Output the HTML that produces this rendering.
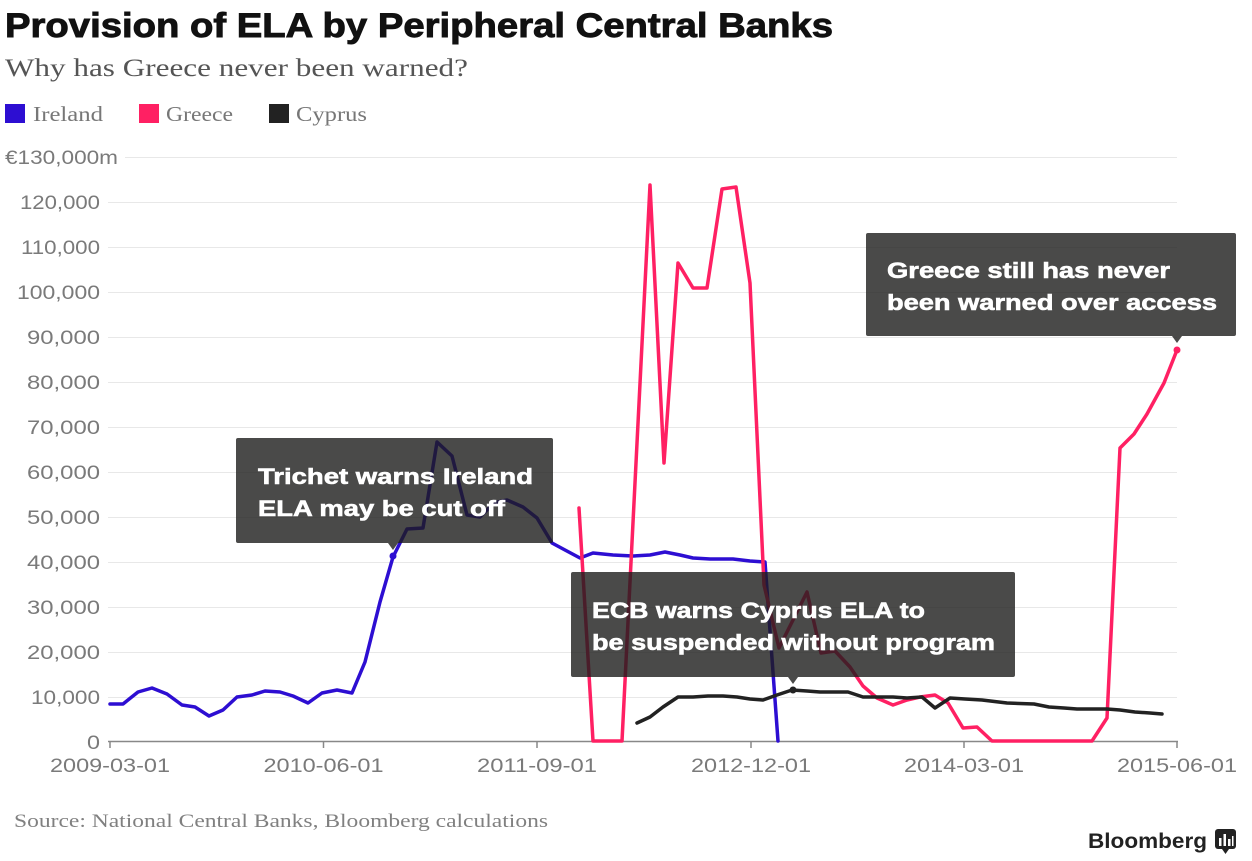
<!DOCTYPE html>
<html>
<head>
<meta charset="utf-8">
<style>
  html,body{margin:0;padding:0;background:#fff;}
  svg{display:block;}
  .yl{font-family:"Liberation Sans",sans-serif;font-size:19px;fill:#7a7a7a;}
  .xl{font-family:"Liberation Sans",sans-serif;font-size:19px;fill:#7a7a7a;}
  .ann{font-family:"Liberation Sans",sans-serif;font-size:22px;font-weight:bold;fill:#fff;stroke:#fff;stroke-width:0.6;}
  .ser{font-family:"Liberation Serif",serif;}
</style>
</head>
<body>
<svg width="1252" height="861" viewBox="0 0 1252 861" xmlns="http://www.w3.org/2000/svg">
  <rect x="0" y="0" width="1252" height="861" fill="#fff"/>

  <!-- Title -->
  <text x="5" y="37" font-family="Liberation Sans, sans-serif" font-size="34" font-weight="bold" fill="#111" stroke="#111" stroke-width="0.9" textLength="828" lengthAdjust="spacingAndGlyphs">Provision of ELA by Peripheral Central Banks</text>
  <text x="5" y="76" class="ser" font-size="25" fill="#555" textLength="463" lengthAdjust="spacingAndGlyphs">Why has Greece never been warned?</text>

  <!-- Legend -->
  <rect x="5" y="104" width="20" height="19" fill="#2d0ed2"/>
  <text x="33" y="121" class="ser" font-size="21" fill="#777" textLength="70" lengthAdjust="spacingAndGlyphs">Ireland</text>
  <rect x="139" y="104" width="20" height="19" fill="#ff2063"/>
  <text x="166" y="121" class="ser" font-size="21" fill="#777" textLength="67" lengthAdjust="spacingAndGlyphs">Greece</text>
  <rect x="269" y="104" width="20" height="19" fill="#222"/>
  <text x="296" y="121" class="ser" font-size="21" fill="#777" textLength="71" lengthAdjust="spacingAndGlyphs">Cyprus</text>

  <!-- Gridlines -->
  <g stroke="#e8e8e8" stroke-width="1">
    <line x1="125" y1="157.5" x2="1177" y2="157.5"/>
    <line x1="108" y1="202.5" x2="1177" y2="202.5"/>
    <line x1="108" y1="247.5" x2="1177" y2="247.5"/>
    <line x1="108" y1="292.5" x2="1177" y2="292.5"/>
    <line x1="108" y1="337.5" x2="1177" y2="337.5"/>
    <line x1="108" y1="382.5" x2="1177" y2="382.5"/>
    <line x1="108" y1="427.5" x2="1177" y2="427.5"/>
    <line x1="108" y1="472.5" x2="1177" y2="472.5"/>
    <line x1="108" y1="517.5" x2="1177" y2="517.5"/>
    <line x1="108" y1="562.5" x2="1177" y2="562.5"/>
    <line x1="108" y1="607.5" x2="1177" y2="607.5"/>
    <line x1="108" y1="652.5" x2="1177" y2="652.5"/>
    <line x1="108" y1="697.5" x2="1177" y2="697.5"/>
  </g>

  <!-- Y labels -->
  <text x="5" y="164" class="yl" textLength="113" lengthAdjust="spacingAndGlyphs">€130,000m</text>
  <text x="20" y="209" class="yl" textLength="80" lengthAdjust="spacingAndGlyphs">120,000</text>
  <text x="21" y="254" class="yl" textLength="79" lengthAdjust="spacingAndGlyphs">110,000</text>
  <text x="17" y="299" class="yl" textLength="83" lengthAdjust="spacingAndGlyphs">100,000</text>
  <text x="27" y="344" class="yl" textLength="73" lengthAdjust="spacingAndGlyphs">90,000</text>
  <text x="27" y="389" class="yl" textLength="73" lengthAdjust="spacingAndGlyphs">80,000</text>
  <text x="27" y="434" class="yl" textLength="73" lengthAdjust="spacingAndGlyphs">70,000</text>
  <text x="27" y="479" class="yl" textLength="73" lengthAdjust="spacingAndGlyphs">60,000</text>
  <text x="27" y="524" class="yl" textLength="73" lengthAdjust="spacingAndGlyphs">50,000</text>
  <text x="27" y="569" class="yl" textLength="73" lengthAdjust="spacingAndGlyphs">40,000</text>
  <text x="27" y="614" class="yl" textLength="73" lengthAdjust="spacingAndGlyphs">30,000</text>
  <text x="27" y="659" class="yl" textLength="73" lengthAdjust="spacingAndGlyphs">20,000</text>
  <text x="31" y="704" class="yl" textLength="69" lengthAdjust="spacingAndGlyphs">10,000</text>
  <text x="87" y="749" class="yl" textLength="13" lengthAdjust="spacingAndGlyphs">0</text>

  <!-- Axis -->
  <line x1="108" y1="741.5" x2="1178" y2="741.5" stroke="#888" stroke-width="1.5"/>
  <g stroke="#888" stroke-width="1.5">
    <line x1="110" y1="741" x2="110" y2="748"/>
    <line x1="323.5" y1="741" x2="323.5" y2="748"/>
    <line x1="537" y1="741" x2="537" y2="748"/>
    <line x1="751" y1="741" x2="751" y2="748"/>
    <line x1="964" y1="741" x2="964" y2="748"/>
    <line x1="1177" y1="741" x2="1177" y2="748"/>
  </g>
  <text x="50" y="772" class="xl" textLength="120" lengthAdjust="spacingAndGlyphs">2009-03-01</text>
  <text x="263.5" y="772" class="xl" textLength="120" lengthAdjust="spacingAndGlyphs">2010-06-01</text>
  <text x="477" y="772" class="xl" textLength="120" lengthAdjust="spacingAndGlyphs">2011-09-01</text>
  <text x="691" y="772" class="xl" textLength="120" lengthAdjust="spacingAndGlyphs">2012-12-01</text>
  <text x="904" y="772" class="xl" textLength="120" lengthAdjust="spacingAndGlyphs">2014-03-01</text>
  <text x="1117" y="772" class="xl" textLength="120" lengthAdjust="spacingAndGlyphs">2015-06-01</text>

  <!-- Series -->
  <g fill="none" stroke-width="3.5" stroke-linejoin="round" stroke-linecap="round">
    <polyline stroke="#2d0ed2" points="110,704 123,704 138,692 152,688 167,694 182,705 195,707 209,716 223,710 237,697 252,695 265,691 280,692 293,696 308,703 322,693 337,690 352,693 365,662 380,602 393,557 407,529 423,528 437,442 452,456 467,515 480,517 494,503 507,500 523,507 537,518 552,543 565,550 580,558 593,553 613,555 633,556 650,555 665,552 680,555 693,558 710,559 733,559 750,561 765,562 778,741"/>
    <polyline stroke="#ff2063" points="579,508 593,741 622,741 650,185 664,463 678,263 693,288 707,288 722,189 736,187 750,283 764,585 779,648 807,592 821,653 835,651 850,667 863,686 877,698 893,705 907,700 920,697 935,695 948,703 963,728 977,727 992,741 1092,741 1107,718 1120,448 1134,434 1147,414 1164,383 1177,350"/>
    <polyline stroke="#222" points="637,723 650,717 663,707 678,697 693,697 708,696 723,696 737,697 750,699 763,700 777,695 792,690 807,691 820,692 835,692 848,692 863,697 878,697 893,697 907,698 922,697 935,708 950,698 965,699 982,700 1007,703 1034,704 1049,707 1064,708 1077,709 1107,709 1120,710 1135,712 1150,713 1162,714"/>
  </g>
  <circle cx="393" cy="556" r="3.5" fill="#2d0ed2"/>
  <circle cx="793" cy="690" r="3.5" fill="#222"/>
  <circle cx="1177" cy="350" r="3.5" fill="#ff2063"/>

  <!-- Annotation boxes -->
  <g fill="#1d1d1b" fill-opacity="0.8">
    <rect x="236" y="438" width="317" height="105" rx="2"/>
    <polygon points="388,543 398,543 393,550"/>
    <rect x="571" y="572" width="444" height="105" rx="2"/>
    <polygon points="788,677 798,677 793,684"/>
    <rect x="866" y="233" width="370" height="103" rx="2"/>
    <polygon points="1172,336 1182,336 1177,343"/>
  </g>
  <text x="258" y="484" class="ann" textLength="275" lengthAdjust="spacingAndGlyphs">Trichet warns Ireland</text>
  <text x="258" y="516" class="ann" textLength="247" lengthAdjust="spacingAndGlyphs">ELA may be cut off</text>
  <text x="592" y="618" class="ann" textLength="333" lengthAdjust="spacingAndGlyphs">ECB warns Cyprus ELA to</text>
  <text x="592" y="650" class="ann" textLength="403" lengthAdjust="spacingAndGlyphs">be suspended without program</text>
  <text x="887" y="278" class="ann" textLength="283" lengthAdjust="spacingAndGlyphs">Greece still has never</text>
  <text x="887" y="310" class="ann" textLength="330" lengthAdjust="spacingAndGlyphs">been warned over access</text>

  <!-- Source -->
  <text x="14" y="827" class="ser" font-size="19" fill="#808080" textLength="534" lengthAdjust="spacingAndGlyphs">Source: National Central Banks, Bloomberg calculations</text>

  <!-- Bloomberg logo -->
  <text x="1088" y="848" font-family="Liberation Sans, sans-serif" font-size="21" font-weight="bold" fill="#222" textLength="119" lengthAdjust="spacingAndGlyphs">Bloomberg</text>
  <rect x="1215" y="829" width="21" height="20" rx="3" fill="#222"/>
  <polygon points="1222,849 1229,849 1225.5,854" fill="#222"/>
  <g fill="#fff">
    <rect x="1219" y="838" width="2.5" height="8"/>
    <rect x="1223.5" y="834" width="2.5" height="12"/>
    <rect x="1228" y="839" width="2.5" height="7"/>
    <rect x="1232" y="836" width="1.5" height="10"/>
  </g>
</svg>
</body>
</html>
